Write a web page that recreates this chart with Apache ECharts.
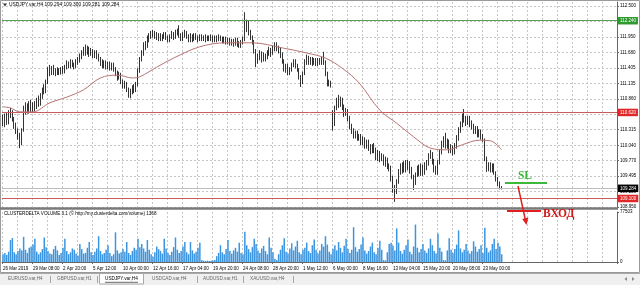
<!DOCTYPE html>
<html><head><meta charset="utf-8">
<script src="https://cdn.jsdelivr.net/npm/echarts@6/dist/echarts.min.js"></script>
<style>html,body{margin:0;padding:0;background:#fff}#c{width:640px;height:285px}</style>
</head><body><div id="c"></div>
<script>
// ---- data ----
const symbolTitle = 'USDJPY.var,H4 109.294 109.300 109.281 109.284';
const volumeTitle = 'CLUSTERDELTA VOLUME 3.1 (\u00a9 http://my.clusterdelta.com/volume) 1368';
const xLabels = ['26 Mar 2019','29 Mar 08:00','2 Apr 20:00','5 Apr 12:00','10 Apr 00:00','12 Apr 16:00','17 Apr 04:00','19 Apr 20:00','24 Apr 08:00','28 Apr 20:00','1 May 12:00','6 May 00:00','8 May 16:00','13 May 04:00','15 May 20:00','20 May 08:00','23 May 00:00'];
const priceTicks = ['108.950','109.220','109.495','109.770','110.040','110.315','110.590','110.860','111.135','111.405','111.680','111.950','112.225','112.500'];
const volumeTicks = [0, 77503];
const tabs = ['EURUSD.var,H4','GBPUSD.var,H1','USDJPY.var,H4','USDCAD.var,H4','AUDUSD.var,H1','XAUUSD.var,H4'];
const levelResistance = 112.240;
const levelSupport = 110.620;
const bidPrice = 109.284;
const levelEntry = 109.100;
// [open, close, low, high]
const ohlc = [
[110.50,110.42,110.38,110.58],[110.42,110.55,110.36,110.60],[110.55,110.44,110.40,110.62],[110.44,110.58,110.41,110.66],[110.58,110.62,110.52,110.70],
[110.62,110.50,110.46,110.66],[110.50,110.38,110.33,110.54],[110.38,110.30,110.24,110.44],[110.30,110.20,110.14,110.34],[110.20,110.08,109.99,110.26],
[110.08,110.30,110.04,110.34],[110.30,110.62,110.28,110.74],[110.62,110.70,110.58,110.80],[110.70,110.64,110.60,110.78],[110.64,110.72,110.60,110.82],
[110.72,110.66,110.62,110.84],[110.66,110.74,110.62,110.80],[110.74,110.70,110.64,110.82],[110.70,110.80,110.68,110.88],[110.80,110.76,110.72,110.92],
[110.76,110.88,110.74,110.96],[110.88,111.02,110.86,111.06],[111.02,110.98,110.94,111.12],[110.98,111.14,110.96,111.20],[111.14,111.36,111.12,111.42],
[111.36,111.30,111.26,111.46],[111.30,111.40,111.28,111.44],[111.40,111.34,111.28,111.46],[111.34,111.30,111.26,111.40],[111.30,111.36,111.28,111.42],
[111.36,111.32,111.28,111.40],[111.32,111.38,111.29,111.42],[111.38,111.34,111.30,111.44],[111.34,111.40,111.31,111.46],[111.40,111.48,111.38,111.54],
[111.48,111.44,111.40,111.52],[111.44,111.50,111.40,111.56],[111.50,111.46,111.42,111.55],[111.46,111.42,111.38,111.50],[111.42,111.50,111.40,111.56],
[111.50,111.54,111.46,111.60],[111.54,111.60,111.50,111.66],[111.60,111.66,111.56,111.72],[111.66,111.72,111.62,111.78],[111.72,111.68,111.62,111.82],
[111.68,111.74,111.64,111.80],[111.74,111.66,111.60,111.78],[111.66,111.70,111.62,111.76],[111.70,111.62,111.58,111.74],[111.62,111.68,111.58,111.72],
[111.68,111.60,111.56,111.72],[111.60,111.56,111.52,111.66],[111.56,111.50,111.44,111.60],[111.50,111.44,111.40,111.56],[111.44,111.50,111.40,111.54],
[111.50,111.42,111.38,111.54],[111.42,111.48,111.38,111.52],[111.48,111.40,111.36,111.52],[111.40,111.46,111.36,111.50],[111.46,111.38,111.34,111.50],
[111.38,111.30,111.26,111.42],[111.30,111.24,111.18,111.36],[111.24,111.30,111.20,111.34],[111.30,111.16,111.12,111.32],[111.16,111.10,111.04,111.20],
[111.10,111.14,111.04,111.18],[111.14,111.02,110.98,111.16],[111.02,110.96,110.88,111.06],[110.96,110.98,110.87,111.04],[110.98,111.06,110.94,111.10],
[111.06,111.00,110.96,111.12],[111.00,111.10,110.98,111.16],[111.10,111.36,111.08,111.40],[111.36,111.56,111.32,111.60],[111.56,111.66,111.52,111.72],
[111.66,111.82,111.62,111.86],[111.82,111.78,111.72,111.88],[111.78,111.92,111.76,111.98],[111.92,111.96,111.86,112.02],[111.96,112.02,111.92,112.06],
[112.02,111.98,111.94,112.08],[111.98,112.00,111.92,112.06],[112.00,111.94,111.90,112.04],[111.94,111.98,111.88,112.02],[111.98,111.92,111.88,112.02],
[111.92,111.96,111.88,112.00],[111.96,112.00,111.92,112.04],[112.00,111.94,111.90,112.04],[111.94,111.90,111.86,111.98],[111.90,111.96,111.86,112.00],
[111.96,112.00,111.92,112.06],[112.00,111.96,111.90,112.04],[111.96,112.02,111.92,112.08],[112.02,112.06,111.98,112.10],[112.06,111.98,111.94,112.16],
[111.98,111.92,111.88,112.02],[111.92,111.98,111.88,112.04],[111.98,112.02,111.94,112.08],[112.02,111.96,111.92,112.06],[111.96,111.90,111.86,112.00],
[111.90,111.96,111.86,112.02],[111.96,111.92,111.86,112.00],[111.92,111.98,111.88,112.02],[111.98,111.94,111.90,112.02],[111.94,111.90,111.86,111.98],
[111.90,111.96,111.88,112.00],[111.96,111.92,111.88,112.00],[111.92,111.96,111.88,111.98],[111.96,111.90,111.86,112.00],[111.90,111.94,111.88,111.98],
[111.94,111.92,111.88,111.98],[111.92,111.96,111.88,112.00],[111.96,111.90,111.86,111.98],[111.90,111.94,111.86,111.98],[111.94,111.90,111.86,111.98],
[111.90,111.96,111.88,112.00],[111.96,111.92,111.88,111.98],[111.92,111.88,111.84,111.96],[111.88,111.92,111.84,111.96],[111.92,111.86,111.82,111.96],
[111.86,111.90,111.82,111.94],[111.90,111.84,111.80,111.94],[111.84,111.88,111.80,111.92],[111.88,111.82,111.78,111.92],[111.82,111.90,111.80,111.94],
[111.90,111.84,111.78,111.94],[111.84,111.80,111.76,111.88],[111.80,111.86,111.76,111.90],[111.86,111.90,111.82,111.96],[111.90,112.14,111.88,112.39],
[112.14,112.20,112.04,112.26],[112.20,112.04,111.98,112.24],[112.04,111.96,111.90,112.08],[111.96,111.86,111.82,111.98],[111.86,111.70,111.66,111.90],
[111.70,111.52,111.42,111.74],[111.52,111.60,111.48,111.66],[111.60,111.66,111.54,111.72],[111.66,111.56,111.50,111.70],[111.56,111.62,111.52,111.68],
[111.62,111.58,111.52,111.66],[111.58,111.68,111.56,111.72],[111.68,111.72,111.62,111.78],[111.72,111.66,111.60,111.76],[111.66,111.74,111.64,111.80],
[111.74,111.80,111.70,111.86],[111.80,111.76,111.70,111.86],[111.76,111.72,111.66,111.80],[111.72,111.64,111.58,111.76],[111.64,111.52,111.48,111.68],
[111.52,111.40,111.34,111.56],[111.40,111.44,111.32,111.48],[111.44,111.34,111.28,111.48],[111.34,111.38,111.28,111.42],[111.38,111.46,111.34,111.50],
[111.46,111.52,111.42,111.56],[111.52,111.44,111.40,111.56],[111.44,111.38,111.34,111.48],[111.38,111.26,111.20,111.40],[111.26,111.18,111.07,111.28],
[111.18,111.30,111.12,111.34],[111.30,111.50,111.28,111.56],[111.50,111.58,111.46,111.64],[111.58,111.52,111.46,111.62],[111.52,111.56,111.46,111.60],
[111.56,111.50,111.44,111.60],[111.50,111.54,111.46,111.58],[111.54,111.48,111.44,111.58],[111.48,111.54,111.44,111.58],[111.54,111.50,111.46,111.58],
[111.50,111.56,111.46,111.60],[111.56,111.52,111.46,111.69],[111.52,111.30,111.26,111.54],[111.30,111.12,111.08,111.34],[111.12,111.16,111.08,111.20],
[111.16,111.10,111.06,111.18],[110.60,110.42,110.30,110.66],[110.42,110.70,110.38,110.74],[110.70,110.82,110.66,110.88],[110.82,110.76,110.70,110.93],
[110.76,110.84,110.72,110.90],[110.84,110.72,110.66,110.88],[110.72,110.60,110.54,110.76],[110.60,110.66,110.56,110.70],[110.66,110.52,110.46,110.68],
[110.52,110.38,110.32,110.56],[110.38,110.30,110.24,110.42],[110.30,110.22,110.16,110.34],[110.22,110.26,110.16,110.30],[110.26,110.16,110.12,110.30],
[110.16,110.20,110.12,110.24],[110.20,110.10,110.04,110.24],[110.10,110.14,110.04,110.20],[110.14,110.04,109.98,110.18],[110.04,110.10,109.98,110.14],
[110.10,110.00,109.94,110.14],[110.00,109.94,109.88,110.06],[109.94,110.02,109.90,110.06],[110.02,109.96,109.90,110.08],[109.96,109.84,109.78,110.00],
[109.84,109.90,109.76,109.96],[109.90,109.80,109.74,109.94],[109.80,109.86,109.76,109.90],[109.86,109.74,109.68,109.88],[109.74,109.80,109.66,109.84],
[109.80,109.68,109.62,109.82],[109.68,109.64,109.58,109.72],[109.64,109.46,109.40,109.68],[109.46,109.30,109.20,109.50],[109.30,109.24,109.04,109.34],
[109.24,109.40,109.18,109.44],[109.40,109.58,109.36,109.62],[109.58,109.66,109.52,109.72],[109.66,109.60,109.54,109.74],[109.60,109.70,109.56,109.76],
[109.70,109.64,109.56,109.78],[109.64,109.72,109.60,109.78],[109.72,109.62,109.54,109.76],[109.62,109.50,109.44,109.66],[109.50,109.40,109.25,109.52],
[109.40,109.52,109.34,109.56],[109.52,109.62,109.48,109.68],[109.62,109.56,109.50,109.70],[109.56,109.66,109.50,109.72],[109.66,109.58,109.50,109.70],
[109.58,109.66,109.52,109.74],[109.66,109.72,109.60,109.78],[109.72,109.86,109.68,109.90],[109.86,109.90,109.80,109.96],[109.90,109.76,109.70,109.92],
[109.76,109.62,109.56,109.80],[109.62,109.56,109.52,109.68],[109.56,109.74,109.52,109.78],[109.74,109.92,109.70,109.96],[109.92,110.06,109.88,110.12],
[110.06,110.14,110.00,110.20],[110.14,110.04,109.98,110.26],[110.04,110.10,109.98,110.16],[110.10,109.96,109.90,110.14],[109.96,110.00,109.90,110.06],
[110.00,109.92,109.86,110.04],[109.92,110.02,109.88,110.08],[110.02,110.16,109.98,110.22],[110.16,110.30,110.12,110.36],[110.30,110.40,110.26,110.46],
[110.40,110.56,110.36,110.60],[110.56,110.50,110.44,110.68],[110.50,110.44,110.38,110.56],[110.44,110.52,110.40,110.56],[110.52,110.42,110.36,110.56],
[110.42,110.38,110.32,110.48],[110.38,110.30,110.24,110.42],[110.30,110.34,110.24,110.38],[110.34,110.24,110.18,110.38],[110.24,110.28,110.18,110.32],
[110.28,110.20,110.14,110.32],[110.20,110.14,110.10,110.24],[110.14,109.80,109.76,110.16],[109.80,109.64,109.57,109.84],[109.64,109.70,109.58,109.74],
[109.70,109.62,109.56,109.74],[109.62,109.68,109.56,109.72],[109.68,109.56,109.52,109.72],[109.56,109.46,109.40,109.58],[109.46,109.36,109.32,109.48],
[109.36,109.30,109.26,109.40],[109.30,109.284,109.26,109.32]
];
const volume = [
12000,14000,11000,16000,34000,37000,15000,12000,17000,21000,
18000,39000,19000,14000,22000,24000,27000,36000,16000,12000,
15000,20000,38000,23000,17000,13000,12000,20000,25000,18000,
11000,14000,22000,36000,17000,12000,15000,21000,19000,13000,
10000,28000,20000,13000,14000,22000,31000,15000,11000,16000,
21000,40000,17000,12000,14000,19000,26000,14000,9000,12000,
46000,18000,13000,15000,20000,16000,31000,14000,11000,17000,
22000,19000,36000,23000,28000,21000,16000,34000,19000,12000,
8000,15000,24000,20000,17000,13000,36000,21000,14000,11000,
16000,23000,38000,19000,14000,17000,24000,31000,15000,12000,
31000,18000,13000,16000,22000,30000,3000,2000,1500,2000,
1500,2000,2500,3000,9000,14000,26000,15000,12000,20000,
34000,17000,13000,18000,22000,16000,30000,14000,12000,47000,
26000,20000,15000,23000,36000,28000,18000,14000,21000,25000,
17000,12000,38000,22000,15000,5000,3000,12000,19000,26000,
37000,16000,13000,21000,29000,18000,24000,33000,15000,12000,
19000,22000,30000,17000,14000,26000,35000,19000,13000,18000,
28000,24000,40000,27000,16000,12000,20000,26000,18000,31000,
22000,15000,25000,36000,20000,14000,19000,54000,23000,16000,
20000,27000,38000,18000,13000,17000,24000,30000,15000,12000,
22000,33000,19000,3000,2500,15000,28000,30000,25000,18000,
52000,30000,17000,13000,19000,26000,35000,16000,12000,24000,
58000,22000,15000,20000,28000,18000,14000,21000,36000,26000,
17000,13000,44000,22000,16000,3000,2500,18000,37000,19000,
14000,20000,27000,49000,21000,15000,19000,28000,18000,13000,
17000,32000,24000,16000,20000,26000,14000,53000,22000,15000,
18000,28000,36000,20000,30000,24000,12000
];
// moving average read at sampled bars: [bar index, price]
const maPoints = [[0,110.72],[4,110.70],[9,110.63],[16,110.63],[25,110.79],[34,110.89],[43,111.02],[52,111.23],[61,111.28],[69,111.23],[73,111.25],[82,111.42],[91,111.58],[105,111.78],[119,111.85],[133,111.85],[149,111.76],[162,111.67],[172,111.58],[181,111.40],[190,111.14],[201,110.66],[210,110.43],[219,110.19],[228,109.99],[237,109.96],[245,110.05],[254,110.13],[260,110.12],[266,109.96]];

// ---- chart ----
const SLOTS = 328, LABEL_EVERY = 16, GRID_EVERY = 8;
const slots = Array.from({length: SLOTS}, (_, i) => String(i));
const FONT = 'Liberation Sans';
const priceVals = priceTicks.map(Number);
const chart = echarts.init(document.getElementById('c'), null, {renderer: 'canvas'});
const gridLine = {show: true, interval: (i) => i % GRID_EVERY === 0, lineStyle: {color: '#c6c6c6', width: 1, type: [2, 2]}};
function lvl(v, lineColor, bg, txt) {
  return {yAxis: v, lineStyle: {color: lineColor, width: 1, type: 'solid'},
    label: {show: true, position: 'end', formatter: v.toFixed(3), backgroundColor: bg, color: txt, fontSize: 4.5, fontFamily: FONT, padding: [1.5, 2, 1, 2], distance: 1}};
}
const tabX = [8, 57, 105, 152, 203, 250];
const sepX = [50, 97, 197, 243, 293];
const graphics = [
  {type: 'rect', shape: {x: 0.5, y: 0.5, width: 639, height: 272}, style: {fill: null, stroke: '#9a9a9a', lineWidth: 1}, z: 50},
  {type: 'rect', shape: {x: 0, y: 207.2, width: 618, height: 2.6}, style: {fill: '#7a7a7a'}, z: 50},
  {type: 'polygon', shape: {points: [[3, 3.5], [7, 3.5], [5, 6.5]]}, style: {fill: '#333'}, z: 50},
  {type: 'text', x: 9, y: 5, style: {text: symbolTitle, fontSize: 4.9, fontFamily: FONT, fill: '#000', verticalAlign: 'middle'}, z: 50},
  {type: 'text', x: 4, y: 214, style: {text: volumeTitle, fontSize: 4.6, fontFamily: FONT, fill: '#000', verticalAlign: 'middle'}, z: 50},
  // tab bar
  {type: 'rect', shape: {x: 0, y: 273, width: 640, height: 12}, style: {fill: '#f0f0f0'}, z: 40},
  {type: 'line', shape: {x1: 0, y1: 273.5, x2: 640, y2: 273.5}, style: {stroke: '#a8a8a8', lineWidth: 1}, z: 41},
  {type: 'rect', shape: {x: 99.5, y: 273.5, width: 44, height: 10.5}, style: {fill: '#fff', stroke: '#a8a8a8', lineWidth: 1}, z: 42},
  {type: 'line', shape: {x1: 105, y1: 282.3, x2: 138, y2: 282.3}, style: {stroke: '#000', lineWidth: 0.6}, z: 44},
  {type: 'polygon', shape: {points: [[627, 277], [627, 281], [624.5, 279]]}, style: {fill: '#888'}, z: 44},
  {type: 'polygon', shape: {points: [[632, 277], [632, 281], [634.5, 279]]}, style: {fill: '#888'}, z: 44},
  // annotations
  {type: 'line', shape: {x1: 505, y1: 183, x2: 547, y2: 183}, style: {stroke: '#3cb83c', lineWidth: 2}, z: 60},
  {type: 'text', x: 525, y: 176.5, style: {text: 'SL', fontSize: 11.5, fontWeight: 'bold', fontFamily: 'Liberation Serif', fill: '#3cb83c', align: 'center', verticalAlign: 'middle'}, z: 60},
  {type: 'line', shape: {x1: 507, y1: 211, x2: 541, y2: 211}, style: {stroke: '#e02020', lineWidth: 2.2}, z: 60},
  {type: 'text', x: 543, y: 214, style: {text: 'ВХОД', fontSize: 11.5, fontWeight: 'bold', fontFamily: 'Liberation Serif', fill: '#d01818', verticalAlign: 'middle'}, z: 60},
  {type: 'line', shape: {x1: 518, y1: 186, x2: 525.2, y2: 219}, style: {stroke: '#e02020', lineWidth: 1.5}, z: 60},
  {type: 'polygon', shape: {points: [[526.5, 225], [528.4, 217.6], [522.2, 219]]}, style: {fill: '#e02020'}, z: 60}
];
tabs.forEach((t, i) => graphics.push({type: 'text', x: tabX[i], y: 279, style: {text: t, fontSize: 4.7, fontFamily: FONT, fill: i === 2 ? '#000' : '#666', verticalAlign: 'middle'}, z: 45}));
sepX.forEach(x => graphics.push({type: 'line', shape: {x1: x + 0.5, y1: 276, x2: x + 0.5, y2: 283}, style: {stroke: '#a8a8a8', lineWidth: 1}, z: 45}));

chart.setOption({
  animation: false,
  backgroundColor: '#fff',
  grid: [
    {left: 2, right: 23, top: 2, height: 205},
    {left: 2, right: 23, top: 212, height: 50}
  ],
  xAxis: [
    {type: 'category', gridIndex: 0, data: slots, boundaryGap: true, axisLine: {show: false}, axisTick: {show: false}, axisLabel: {show: false}, splitLine: gridLine},
    {type: 'category', gridIndex: 1, data: slots, boundaryGap: true,
      axisLine: {show: true, lineStyle: {color: '#666', width: 1}},
      axisTick: {show: true, length: 2, interval: (i) => i % LABEL_EVERY === 0 && i / LABEL_EVERY < xLabels.length, lineStyle: {color: '#666'}},
      axisLabel: {show: true, interval: (i) => i % LABEL_EVERY === 0 && i / LABEL_EVERY < xLabels.length,
        formatter: (v, i) => xLabels[i / LABEL_EVERY] || '', align: 'left', fontSize: 4.5, fontFamily: FONT, color: '#000', margin: 4},
      splitLine: gridLine}
  ],
  yAxis: [
    {type: 'value', gridIndex: 0, position: 'right', min: 108.95, max: 112.5707,
      axisLine: {show: true, lineStyle: {color: '#666', width: 1}},
      axisTick: {show: true, length: 2, customValues: priceVals, lineStyle: {color: '#666'}},
      axisLabel: {show: true, customValues: priceVals, formatter: (v) => priceTicks[priceVals.findIndex(p => Math.abs(p - v) < 1e-6)] || '', fontSize: 4.5, fontFamily: FONT, color: '#000', margin: 3},
      splitLine: {show: true, lineStyle: {color: '#c6c6c6', width: 1, type: [2, 2]}}},
    {type: 'value', gridIndex: 1, position: 'right', min: 0, max: 77503,
      axisLine: {show: true, lineStyle: {color: '#666', width: 1}},
      axisTick: {show: true, length: 2, customValues: volumeTicks, lineStyle: {color: '#666'}},
      axisLabel: {show: true, customValues: volumeTicks, fontSize: 4.5, fontFamily: FONT, color: '#000', margin: 3, formatter: (v) => String(v)},
      splitLine: {show: false}}
  ],
  series: [
    {type: 'candlestick', xAxisIndex: 0, yAxisIndex: 0, data: ohlc, barWidth: 1.2,
      itemStyle: {color: '#ffffff', color0: '#000000', borderColor: '#000000', borderColor0: '#000000', borderWidth: 0.8},
      markLine: {symbol: 'none', silent: true, animation: false,
        data: [
          lvl(levelResistance, '#55a055', '#2e9a2e', '#fff'),
          lvl(levelSupport, '#cc5a5a', '#e02828', '#fff'),
          lvl(bidPrice, '#bdbdbd', '#000', '#fff'),
          lvl(levelEntry, '#cc5a5a', '#e02828', '#fff')
        ]}},
    {type: 'line', xAxisIndex: 0, yAxisIndex: 0, data: maPoints, smooth: 0.35, symbol: 'none', lineStyle: {color: '#b87474', width: 1}, z: 3},
    {type: 'bar', xAxisIndex: 1, yAxisIndex: 1, data: volume, barWidth: '80%', itemStyle: {color: '#3b95e0'}}
  ],
  graphic: graphics
});
</script>
</body></html>
